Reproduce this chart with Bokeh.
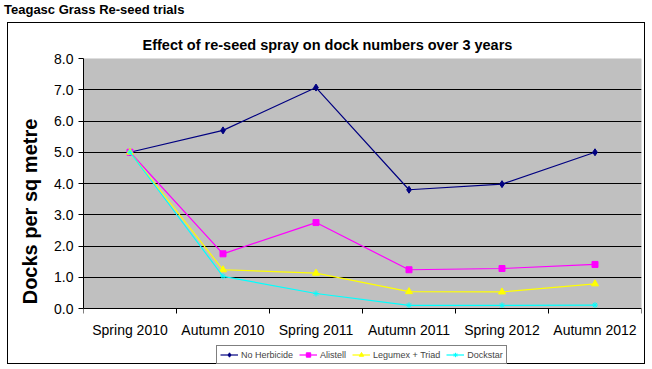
from bokeh.plotting import figure
from bokeh.models import (FixedTicker, NumeralTickFormatter, Legend, LegendItem,
                          Range1d, Div, Title, BoxAnnotation)
from bokeh.layouts import column
from bokeh.embed import file_html
from bokeh.resources import INLINE

categories = ["Spring 2010", "Autumn 2010", "Spring 2011", "Autumn 2011", "Spring 2012", "Autumn 2012"]
no_herbicide = [5.0, 5.7, 7.07, 3.8, 3.98, 5.0]
alistell = [5.0, 1.75, 2.75, 1.24, 1.28, 1.41]
legumex_triad = [5.0, 1.24, 1.13, 0.54, 0.53, 0.79]
dockstar = [5.0, 1.03, 0.48, 0.1, 0.1, 0.11]
series_names = ["No Herbicide", "Alistell", "Legumex + Triad", "Dockstar"]
y_ticks = [0, 1, 2, 3, 4, 5, 6, 7, 8]
y_min, y_max = 0, 8

FONT = "Liberation Sans"
n = len(categories)
xs = [i + 0.5 for i in range(n)]

# frame extends below the value axis so the category labels and legend sit inside it
p = figure(width=638, height=342, output_backend="svg", toolbar_location=None,
           x_range=Range1d(0, n), y_range=Range1d(-1.792, y_max),
           min_border_left=75, min_border_right=5, min_border_top=35, min_border_bottom=1)
p.margin = (0, 0, 0, 7)
p.styles = {"border": "1px solid black"}
p.background_fill_color = "white"
p.border_fill_color = "white"
p.outline_line_color = None

# grey plot area
p.add_layout(BoxAnnotation(left=0, right=n, bottom=y_min, top=y_max,
                           fill_color="#C0C0C0", fill_alpha=1.0,
                           line_color="#808080", line_width=1, level="image"))

p.title = Title(text="Effect of re-seed spray on dock numbers over 3 years",
                align="left", offset=59, text_font=FONT, text_font_size="14.5px",
                text_font_style="bold", standoff=11, text_color="black")

# x axis at y=0: labels at centres, boundary ticks as minor ticks
xa = p.xaxis[0]
xa.fixed_location = 0
xa.bounds = (0, n)
xa.ticker = FixedTicker(ticks=xs, minor_ticks=list(range(n + 1)))
xa.major_label_overrides = {x: c for x, c in zip(xs, categories)}
xa.major_tick_line_color = None
xa.minor_tick_line_color = "black"
xa.minor_tick_out = 5
xa.minor_tick_in = 0
xa.axis_line_color = "black"
xa.major_label_text_font = FONT
xa.major_label_text_font_size = "14px"
xa.major_label_text_color = "black"
xa.major_label_standoff = 7
p.xgrid.visible = False

ya = p.yaxis[0]
ya.bounds = (y_min, y_max)
ya.ticker = FixedTicker(ticks=y_ticks)
ya.formatter = NumeralTickFormatter(format="0.0")
ya.major_tick_out = 5
ya.major_tick_in = 0
ya.minor_tick_line_color = None
ya.axis_line_color = "black"
ya.major_label_text_font = FONT
ya.major_label_text_font_size = "14px"
ya.major_label_text_color = "black"
ya.major_label_standoff = 5
ya.axis_label = "Docks per sq metre"
ya.axis_label_text_font = FONT
ya.axis_label_text_font_size = "20px"
ya.axis_label_text_font_style = "bold"
ya.axis_label_text_color = "black"
ya.axis_label_standoff = 10
p.ygrid.ticker = FixedTicker(ticks=y_ticks[1:])
p.ygrid.grid_line_color = "black"
p.ygrid.grid_line_alpha = 1.0
p.ygrid.bounds = (0, n)

colors = ["#000080", "#FF00FF", "#FFFF00", "#00FFFF"]
markers = ["diamond", "square", "triangle", "asterisk"]
sizes = [7, 6, 7, 6]
data = [no_herbicide, alistell, legumex_triad, dockstar]

items = []
for name, vals, c, m, s in zip(series_names, data, colors, markers, sizes):
    ln = p.line(xs, vals, line_color=c, line_width=1.2)
    mk = p.scatter(xs, vals, marker=m, size=s, fill_color=c, line_color=c)
    items.append(LegendItem(label=name, renderers=[ln, mk]))

legend = Legend(items=items, orientation="horizontal", location=(133, 0),
                label_text_font=FONT, label_text_font_size="9px",
                glyph_width=18, glyph_height=11, label_height=11,
                label_standoff=3, spacing=6, padding=3, margin=0,
                border_line_color="black", border_line_width=1,
                background_fill_color="white", background_fill_alpha=1.0)
p.add_layout(legend)

page_title = Div(text="Teagasc Grass Re-seed trials", width=300, height=22,
                 margin=(0, 0, 0, 0),
                 styles={"font-family": "Liberation Sans", "font-weight": "bold",
                         "font-size": "13px", "padding-left": "4px",
                         "padding-top": "3px", "line-height": "14px"})

layout = column(page_title, p, spacing=0)
open("out.html", "w").write(file_html(layout, INLINE))
